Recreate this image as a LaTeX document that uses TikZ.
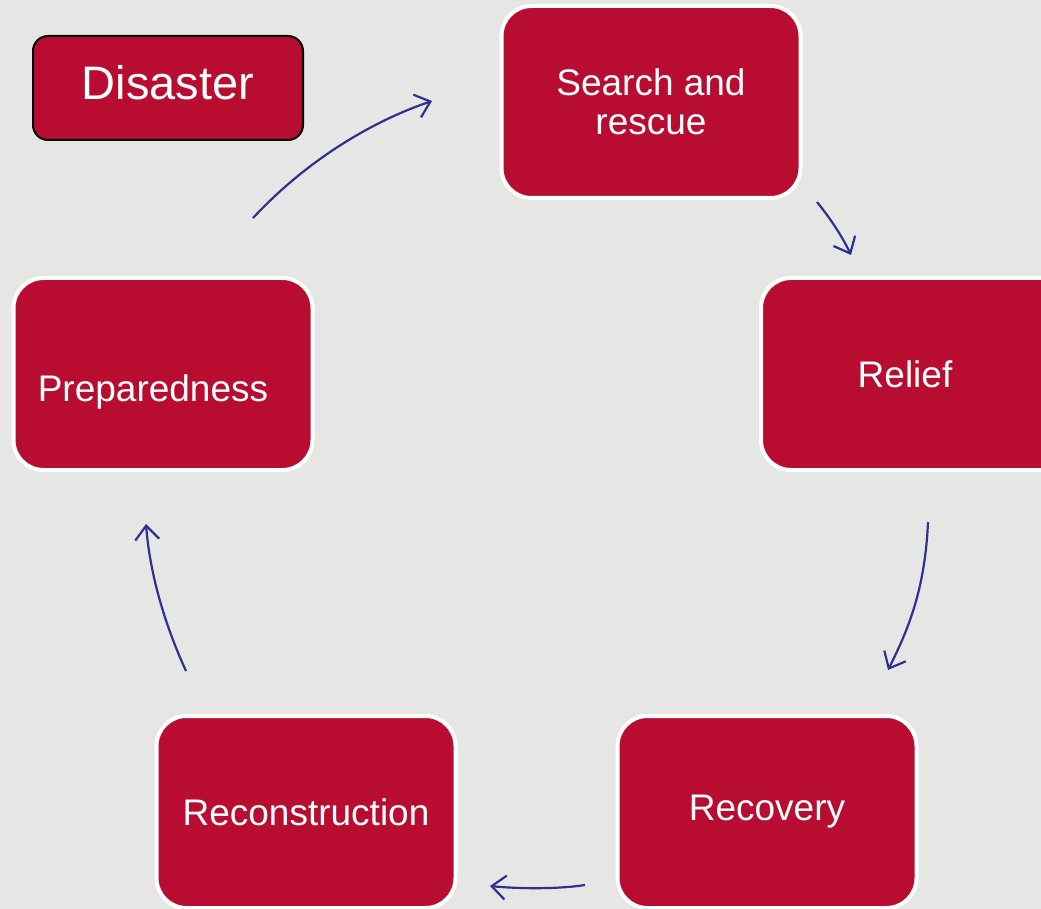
\documentclass[tikz,border=0pt]{standalone}
\usepackage{fontspec}
\setmainfont{Liberation Sans}
\usepackage{tikz}
\usetikzlibrary{arrows.meta, positioning, calc}
\definecolor{bggray}{HTML}{E6E6E4}
\definecolor{crimson}{HTML}{B80D30}
\definecolor{arrowblue}{HTML}{2E3192}
\tikzset{stage/.style={rectangle,rounded corners=30pt,draw=white,line width=4pt,fill=crimson,text=white,minimum width=299pt,minimum height=192pt,align=center,inner sep=0pt,font=\fontsize{37}{39}\selectfont}}
\tikzset{stagetext/.style={text=white,inner sep=0pt,font=\fontsize{37}{39}\selectfont}}
\tikzset{disasterbox/.style={rectangle,rounded corners=15pt,draw=black,line width=2pt,fill=crimson,text=white,minimum width=270pt,minimum height=104pt,inner sep=0pt,text depth=12pt,font=\fontsize{47}{49}\selectfont}}
\tikzset{cyclearrow/.style={draw=arrowblue,line width=2.2pt,-{Straight Barb[length=14pt,width=24pt,line width=2.2pt]}}}

\begin{document}
\begin{tikzpicture}[x=1pt,y=-1pt]
\fill [bggray] (0,0) rectangle (1041,909);
\useasboundingbox (0,0) rectangle (1041,909);

\node [disasterbox] at (168,88) (disaster) {Disaster};

\node [stage] at (651,102) (search) {Search and\\rescue};
\node [stage,minimum width=310pt] at (916,374) (relief) {\hspace*{-22pt}Relief};
\node [stage] at (767,812) (recovery) {Recovery};
\node [stage] at (306,812) (recon) {Reconstruction};
\node [stage] at (163,374) (prep) {};
\node [stagetext] at (153,392) (preptext) {Preparedness};

% arrow ends
\coordinate (a1s) at (253,218);
\coordinate (a1e) at (432,101);
\coordinate (a2s) at (817,202);
\coordinate (a2e) at (851,255);
\coordinate (a3s) at (928,522);
\coordinate (a3e) at (888,670);
\coordinate (a4s) at (585,885);
\coordinate (a4e) at (490,886);
\coordinate (a5s) at (186,671);
\coordinate (a5e) at (146,524);

\draw [cyclearrow] (a1s) .. controls (305,162) and (370,122) .. (a1e);
\draw [cyclearrow] (a2s) .. controls (830,218) and (842,236) .. (a2e);
\draw [cyclearrow] (a3s) .. controls (925,590) and (908,630) .. (a3e);
\draw [cyclearrow] (a4s) .. controls (560,889) and (520,889) .. (a4e);
\draw [cyclearrow] (a5s) .. controls (165,625) and (150,575) .. (a5e);
\end{tikzpicture}
\end{document}
